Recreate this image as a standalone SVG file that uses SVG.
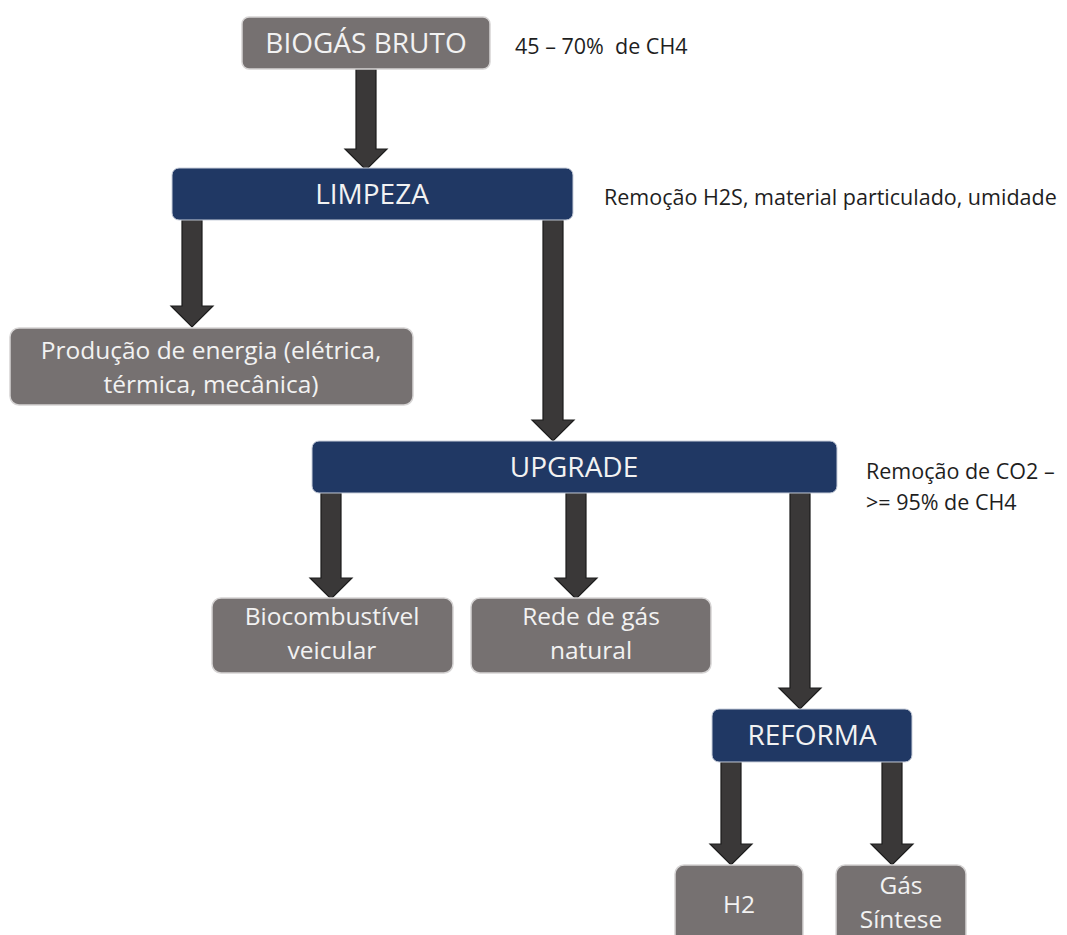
<svg xmlns="http://www.w3.org/2000/svg" width="1067" height="935" viewBox="0 0 1067 935">
  <defs>
    <style>
      .grey { fill: #767171; stroke: #d6d4d4; stroke-width: 1.5; }
      .navy { fill: #203864; stroke: #c9cfdb; stroke-width: 1; }
      .title { font-family: "Open Sans", "Liberation Sans", sans-serif; font-size: 28px; fill: #f2f2f2; text-anchor: middle; }
      .label { font-family: "Open Sans", "Liberation Sans", sans-serif; font-size: 24.5px; fill: #f2f2f2; text-anchor: middle; }
      .note { font-family: "Open Sans", "Liberation Sans", sans-serif; font-size: 21.5px; fill: #1e1e1e; white-space: pre; }
      .arrow { fill: #3a3838; stroke: #1c1c1c; stroke-width: 1.2; stroke-linejoin: miter; }
    </style>
  </defs>
  <rect width="1067" height="935" fill="#ffffff"/>

  <!-- connectors: block arrows, shaft 20 wide, head 42 wide -->
  <g id="connectors">
    <path class="arrow" d="M356,69 H376 V149 H387 L366,170 L345,149 H356 Z"/>
    <path class="arrow" d="M182,220 H202 V306 H213 L192,327 L171,306 H182 Z"/>
    <path class="arrow" d="M543,220 H563 V420 H574 L553,441 L532,420 H543 Z"/>
    <path class="arrow" d="M321,493 H341 V578 H352 L331,599 L310,578 H321 Z"/>
    <path class="arrow" d="M566,493 H586 V578 H597 L576,599 L555,578 H566 Z"/>
    <path class="arrow" d="M790,493 H810 V688 H821 L800,709 L779,688 H790 Z"/>
    <path class="arrow" d="M721,762 H741 V844 H752 L731,865 L710,844 H721 Z"/>
    <path class="arrow" d="M882,762 H902 V844 H913 L892,865 L871,844 H882 Z"/>
  </g>

  <g id="biogas-bruto">
    <rect class="grey" x="242" y="17" width="248" height="52" rx="7"/>
    <text class="title" x="366" y="53">BIOGÁS BRUTO</text>
  </g>
  <text class="note" x="515" y="54" xml:space="preserve">45 – 70%  de CH4</text>

  <g id="limpeza">
    <rect class="navy" x="172" y="168" width="401" height="52" rx="7"/>
    <text class="title" x="372" y="204">LIMPEZA</text>
  </g>
  <text class="note" x="604" y="205">Remoção H2S, material particulado, umidade</text>

  <g id="producao-energia">
    <rect class="grey" x="10" y="328" width="403" height="77" rx="9"/>
    <text class="label" x="211" y="359">Produção de energia (elétrica,</text>
    <text class="label" x="211" y="393">térmica, mecânica)</text>
  </g>

  <g id="upgrade">
    <rect class="navy" x="312" y="441" width="525" height="52" rx="7"/>
    <text class="title" x="574" y="477">UPGRADE</text>
  </g>
  <text class="note" x="866" y="479">Remoção de CO2 –</text>
  <text class="note" x="866" y="510">&gt;= 95% de CH4</text>

  <g id="biocombustivel">
    <rect class="grey" x="212" y="598" width="241" height="75" rx="9"/>
    <text class="label" x="332" y="625">Biocombustível</text>
    <text class="label" x="332" y="659">veicular</text>
  </g>

  <g id="rede-gas-natural">
    <rect class="grey" x="471" y="598" width="240" height="75" rx="9"/>
    <text class="label" x="591" y="625">Rede de gás</text>
    <text class="label" x="591" y="659">natural</text>
  </g>

  <g id="reforma">
    <rect class="navy" x="712" y="709" width="200" height="53" rx="7"/>
    <text class="title" x="812" y="745">REFORMA</text>
  </g>

  <g id="h2">
    <rect class="grey" x="675" y="865" width="128" height="85" rx="9"/>
    <text class="label" x="739" y="913">H2</text>
  </g>

  <g id="gas-sintese">
    <rect class="grey" x="836" y="865" width="130" height="85" rx="9"/>
    <text class="label" x="901" y="894">Gás</text>
    <text class="label" x="901" y="928">Síntese</text>
  </g>
</svg>
